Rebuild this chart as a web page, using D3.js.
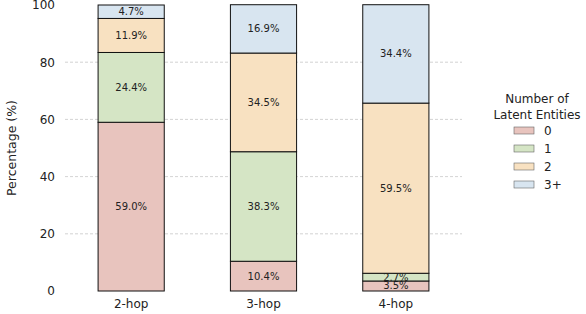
<!DOCTYPE html>
<html>
<head>
<meta charset="utf-8">
<script src="https://cdn.jsdelivr.net/npm/d3@7"></script>
<style>
  body { margin: 0; background: #fff; }
  text { font-family: "DejaVu Sans", sans-serif; }
</style>
</head>
<body>
<script>
// stacked bars: share of questions by number of latent entities
var hops = ["2-hop", "3-hop", "4-hop"];
var groups = ["0", "1", "2", "3+"];
var vals0 = [59.0, 10.4, 3.5];
var vals1 = [24.4, 38.3, 2.7];
var vals2 = [11.9, 34.5, 59.5];
var vals3 = [4.7, 16.9, 34.4];
var yTicks = [0, 20, 40, 60, 80, 100];
var colors = ["#e8c4be", "#d5e5c5", "#f8e1c1", "#d8e5f0"];

var svgWidth = 586, svgHeight = 314;
var margin = { top: 5, right: 124, bottom: 23, left: 65 };
var width = svgWidth - margin.left - margin.right;
var height = svgHeight - margin.top - margin.bottom;

var svg = d3.select("body").append("svg")
  .attr("width", svgWidth)
  .attr("height", svgHeight);
var chartGroup = svg.append("g").attr("transform", `translate(${margin.left}, ${margin.top})`);

// build table for the stack
var table = hops.map(function(h, i) {
  return { hop: h, "0": vals0[i], "1": vals1[i], "2": vals2[i], "3+": vals3[i] };
});
var series = d3.stack().keys(groups)(table);

var xScale = d3.scaleBand().domain(hops).range([0, width]).paddingInner(0.5).paddingOuter(0.25);
var yScale = d3.scaleLinear().domain([0, 100]).range([height, 0]);

// grid
chartGroup.selectAll(".grid")
  .data(yTicks.filter(d => d > 0 && d < 100))
  .enter().append("line")
  .attr("x1", 0).attr("x2", width)
  .attr("y1", d => yScale(d)).attr("y2", d => yScale(d))
  .attr("stroke", "#c8c8c8")
  .attr("stroke-width", 0.8)
  .attr("stroke-dasharray", "3,2");

// axes (no lines, just labels)
var yAxis = chartGroup.append("g")
  .call(d3.axisLeft(yScale).tickValues(yTicks).tickSize(0).tickPadding(10));
yAxis.select(".domain").remove();
yAxis.selectAll("text").style("font-size", "12px").attr("fill", "#222");

var xAxis = chartGroup.append("g")
  .attr("transform", `translate(0, ${height})`)
  .call(d3.axisBottom(xScale).tickSize(0).tickPadding(8));
xAxis.select(".domain").remove();
xAxis.selectAll("text").style("font-size", "12px").attr("fill", "#222");

svg.append("text")
  .attr("transform", "rotate(-90)")
  .attr("x", -(margin.top + height / 2))
  .attr("y", 16)
  .attr("text-anchor", "middle")
  .style("font-size", "12.5px")
  .attr("fill", "#222")
  .text("Percentage (%)");

// bars
var layers = chartGroup.selectAll(".layer")
  .data(series)
  .enter().append("g")
  .attr("fill", (d, i) => colors[i]);

layers.selectAll("rect")
  .data(d => d)
  .enter().append("rect")
  .attr("x", d => xScale(d.data.hop))
  .attr("y", d => yScale(d[1]))
  .attr("width", xScale.bandwidth())
  .attr("height", d => yScale(d[0]) - yScale(d[1]))
  .attr("stroke", "#111")
  .attr("stroke-width", 1);

layers.selectAll("text")
  .data(d => d)
  .enter().append("text")
  .attr("x", d => xScale(d.data.hop) + xScale.bandwidth() / 2)
  .attr("y", d => (yScale(d[0]) + yScale(d[1])) / 2)
  .attr("dy", "0.35em")
  .attr("text-anchor", "middle")
  .style("font-size", "10px")
  .attr("fill", "#222")
  .text(d => (d[1] - d[0]).toFixed(1) + "%");

// legend
var legend = svg.append("g").attr("transform", "translate(537, 0)");
legend.append("text").attr("y", 103).attr("text-anchor", "middle")
  .style("font-size", "12px").attr("fill", "#222").text("Number of");
legend.append("text").attr("y", 119).attr("text-anchor", "middle")
  .style("font-size", "12px").attr("fill", "#222").text("Latent Entities");

var items = legend.selectAll(".item")
  .data(groups)
  .enter().append("g")
  .attr("transform", (d, i) => `translate(-23, ${127 + i * 18})`);
items.append("rect")
  .attr("width", 20).attr("height", 7)
  .attr("fill", (d, i) => colors[i])
  .attr("stroke", "#666")
  .attr("stroke-width", 0.6);
items.append("text")
  .attr("x", 30).attr("y", 4).attr("dy", "0.35em")
  .style("font-size", "12px").attr("fill", "#222")
  .text(d => d);
</script>
</body>
</html>
